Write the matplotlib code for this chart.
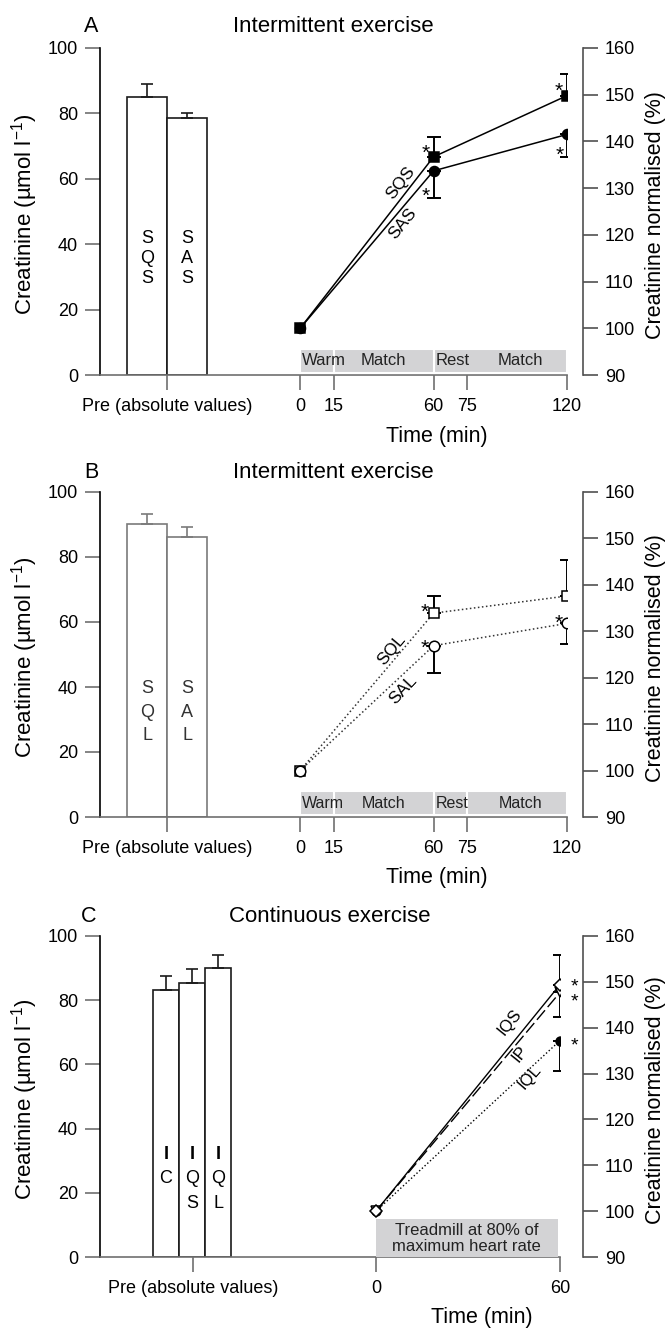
import matplotlib
matplotlib.use("Agg")
import matplotlib.pyplot as plt

plt.rcParams["font.family"] = ["Liberation Sans", "DejaVu Sans"]
plt.rcParams["mathtext.fontset"] = "custom"
plt.rcParams["mathtext.rm"] = "Liberation Sans"
plt.rcParams["mathtext.it"] = "Liberation Sans:italic"
plt.rcParams["mathtext.default"] = "regular"

# ---------------- data ----------------
# Panel A: intermittent exercise, S*S groups
a_groups = ["SQS", "SAS"]
a_pre = [85.0, 78.5]
a_pre_sd = [4.0, 1.5]
a_time = [0, 60, 120]
a_sqs = [100.0, 136.7, 149.8]
a_sqs_sd = [0.0, 4.3, 4.7]
a_sas = [100.0, 133.7, 141.5]
a_sas_sd = [0.0, 5.8, 4.8]

# Panel B: intermittent exercise, S*L groups
b_groups = ["SQL", "SAL"]
b_pre = [90.0, 86.2]
b_pre_sd = [3.2, 3.1]
b_time = [0, 60, 120]
b_sql = [100.0, 133.9, 137.6]
b_sql_sd = [0.0, 3.6, 7.8]
b_sal = [100.0, 126.9, 131.7]
b_sal_sd = [0.0, 5.8, 4.4]

# Panel C: continuous exercise
c_groups = ["IC", "IQS", "IQL"]
c_pre = [83.2, 85.5, 89.9]
c_pre_sd = [4.3, 4.1, 4.1]
c_time = [0, 60]
c_iqs = [100.0, 149.4]
c_iqs_sd = [0.0, 6.4]
c_ip = [100.0, 147.7]
c_ip_sd = [0.0, 5.3]
c_iql = [100.0, 137.2]
c_iql_sd = [0.0, 6.7]

# exercise protocol phases
phase_edges_a = [0, 15, 60, 120]
phase_edges_b = [0, 15, 60, 75, 120]
phase_names = ["Warm", "Match", "Rest", "Match"]
phase_label_x = [1, 37.5, 68.5, 99]
xtick_min_ab = [0, 15, 60, 75, 120]
xtick_min_c = [0, 60]

# ---------------- layout helpers ----------------
W, H = 666, 1328
fig = plt.figure(figsize=(W / 100, H / 100), dpi=100)
PX = 0.72  # points per pixel at 100 dpi
GRAY = "#707070"
BAND = "#d3d3d5"


def rect(x0, y_top, x1, y_bot):
    return [x0 / W, 1 - y_bot / H, (x1 - x0) / W, (y_bot - y_top) / H]


def panel(r, xlim, pre_x, xticks, right_out_px, xlabel_x, ly_px):
    ax = fig.add_axes(r)
    ax.set_xlim(*xlim)
    ax.set_ylim(0, 100)
    for s in ("top", "right"):
        ax.spines[s].set_visible(False)
    ax.spines["left"].set_color("black")
    ax.spines["left"].set_linewidth(1.2)
    ax.spines["bottom"].set_color(GRAY)
    ax.spines["bottom"].set_linewidth(1.2)
    ax.set_yticks([0, 20, 40, 60, 80, 100])
    ax.set_xticks([pre_x] + xticks)
    ax.set_xticklabels(["Pre (absolute values)"] + [str(t) for t in xticks])
    ax.tick_params(axis="y", direction="out", length=15 * PX, width=1.2,
                   color=GRAY, labelsize=13, pad=5)
    ax.tick_params(axis="x", direction="out", length=15 * PX, width=1.2,
                   color=GRAY, labelsize=13, pad=6)

    bb = ax.get_position()
    ax_w, ax_h = bb.width * W, bb.height * H
    x0_px = bb.x0 * W

    ax.set_ylabel("Creatinine (µmol l$^{-1}$)", fontsize=16)
    ax.yaxis.label.set_va("center")
    ax.yaxis.set_label_coords((25 - x0_px) / ax_w, 0.49)

    ax.set_xlabel("Time (min)", fontsize=15.5)
    ax.xaxis.label.set_va("center")
    ax.xaxis.set_label_coords((xlabel_x - x0_px) / ax_w, -ly_px / ax_h)

    axr = ax.twinx()
    axr.set_ylim(90, 160)
    for s in ("top", "left", "bottom"):
        axr.spines[s].set_visible(False)
    axr.spines["right"].set_position(("outward", right_out_px * PX))
    axr.spines["right"].set_color("#505050")
    axr.spines["right"].set_linewidth(1.2)
    axr.set_yticks(range(90, 161, 10))
    axr.tick_params(axis="y", direction="out", length=15 * PX, width=1.2,
                    color="#505050", labelsize=13, pad=5)
    axr.set_ylabel("Creatinine normalised (%)", fontsize=15.5)
    axr.yaxis.label.set_va("center")
    axr.yaxis.set_label_coords((655 - x0_px) / ax_w, 0.49)
    return ax, axr


def fig_text(x_px, y_px, s, **kw):
    fig.text(x_px / W, 1 - y_px / H, s, ha="center", va="center", **kw)


def bars(ax, centers, width, vals, sds, groups, edge, letter_top, step,
         bold_first=False, color="black"):
    ax.bar(centers, vals, width=width, color="white", edgecolor=edge,
           linewidth=1.2, zorder=2)
    ax.errorbar(centers, vals, yerr=[[0] * len(sds), sds], fmt="none",
                ecolor=edge, elinewidth=1.2, capsize=4.5, capthick=1.2,
                zorder=3)
    for cx, g in zip(centers, groups):
        for i, ch in enumerate(g):
            w = "bold" if (bold_first and i == 0) else "normal"
            ax.text(cx, letter_top - i * step, ch, ha="center", va="center",
                    fontsize=13, fontweight=w, color=color, zorder=4)


def series(axr, t, vals, sds, up, ls, marker, ms, face, lw=1.1, color="black",
           dashes=None, z=4):
    kw = dict(linestyle=ls, color=color, linewidth=lw, marker=marker,
              markersize=ms, markerfacecolor=face, markeredgecolor="black",
              markeredgewidth=1.1, zorder=z)
    line, = axr.plot(t, vals, **kw)
    if dashes is not None:
        line.set_dashes(dashes)
    idx = [i for i, s in enumerate(sds) if s > 0]
    tt = [t[i] for i in idx]
    vv = [vals[i] for i in idx]
    ee = [sds[i] for i in idx]
    zero = [0] * len(idx)
    yerr = [zero, ee] if up else [ee, zero]
    axr.errorbar(tt, vv, yerr=yerr, fmt="none", ecolor="black",
                 elinewidth=1.4, capsize=5, capthick=1.4, zorder=3)


def star(axr, x, y, dx_px, dy_px, fs=15):
    axr.annotate("*", xy=(x, y), xytext=(dx_px * PX, dy_px * PX - 0.58 * fs),
                 textcoords="offset points", ha="center", va="baseline",
                 fontsize=fs, zorder=6)


def band(axr, edges, y0, y1, names, xs, fam, fs):
    for x0, x1 in zip(edges[:-1], edges[1:]):
        axr.bar(x0, y1 - y0, width=x1 - x0, bottom=y0, align="edge",
                color=BAND, edgecolor="white", linewidth=1.5, zorder=1)
    for name, x in zip(names, xs):
        axr.text(x, (y0 + y1) / 2, name,
                 ha="left" if name == "Warm" else "center",
                 va="center", fontsize=fs, family=fam, color="#222222",
                 zorder=2)


# ---------------- panel A ----------------
axA, arA = panel(rect(100, 48, 567, 375), (-90, 120), -59.8, xtick_min_ab, 16,
                 437, 61)
bars(axA, [-68.75, -50.85], 17.9, a_pre, a_pre_sd, a_groups, "#1a1a1a",
     41.6, 6.0)
band(arA, phase_edges_a, 90.4, 95.6, phase_names, phase_label_x,
     ["Liberation Sans Narrow", "Liberation Sans"], 12)
series(arA, a_time, a_sqs, a_sqs_sd, True, "-", "s", 6.6, "black")
series(arA, a_time, a_sas, a_sas_sd, False, "-", "o", 7.2, "black")
star(arA, 60, a_sqs[1], -8, 10)
star(arA, 60, a_sas[1], -8, -19)
star(arA, 120, a_sqs[2], -8, 11)
star(arA, 120, a_sas[2], -7, -14)
arA.text(45, 131.1, "SQS", rotation=52, rotation_mode="anchor", ha="center",
         va="center", fontsize=12.5)
arA.text(46.3, 122.5, "SAS", rotation=51, rotation_mode="anchor", ha="center",
         va="center", fontsize=12.5)
fig_text(91, 26, "A", fontsize=15.5)
fig_text(333, 26, "Intermittent exercise", fontsize=16)

# ---------------- panel B ----------------
axB, arB = panel(rect(100, 492, 567, 817), (-90, 120), -59.8, xtick_min_ab, 16,
                 437, 61)
bars(axB, [-68.75, -50.85], 17.9, b_pre, b_pre_sd, b_groups, "#7a7a7a",
     39.4, 7.2, color="#333333")
band(arB, phase_edges_b, 90.5, 95.5, phase_names, phase_label_x,
     ["Liberation Sans"], 11.5)
series(arB, b_time, b_sql, b_sql_sd, True, ":", "s", 7.0, "white",
       color="#333333", lw=1.1)
series(arB, b_time, b_sal, b_sal_sd, False, ":", "o", 7.6, "white",
       color="#333333", lw=1.1)
star(arB, 60, b_sql[1], -9, 7)
star(arB, 60, b_sal[1], -9, 4)
star(arB, 120, b_sal[2], -8, 7)
arB.text(41.2, 126.0, "SQL", rotation=50, rotation_mode="anchor", ha="center",
         va="center", fontsize=12.5)
arB.text(46.4, 117.4, "SAL", rotation=47, rotation_mode="anchor", ha="center",
         va="center", fontsize=12.5)
fig_text(91, 472, "B", fontsize=15.5)
fig_text(333, 472, "Intermittent exercise", fontsize=16)

# ---------------- panel C ----------------
axC, arC = panel(rect(100, 936, 560, 1257), (-90, 60), -59.7, xtick_min_c, 23,
                 482, 60)
bars(axC, [-68.5, -60.0, -51.5], 8.48, c_pre, c_pre_sd, c_groups, "#1a1a1a",
     31.8, 7.5, bold_first=True)
arC.bar(0, 98.3 - 90, width=59.5, bottom=90, align="edge", color=BAND,
        edgecolor="none", zorder=1)
arC.text(29.5, 94.1, "Treadmill at 80% of\nmaximum heart rate", ha="center",
         va="center", fontsize=12, linespacing=1.1, color="#222222", zorder=2)
series(arC, c_time, c_iql, c_iql_sd, False, ":", "o", 6.4, "black", lw=1.0,
       z=4)
series(arC, c_time, c_ip, c_ip_sd, False, "--", "v", 7.0, "white", lw=1.0,
       dashes=(9, 3), z=5)
series(arC, c_time, c_iqs, c_iqs_sd, True, "-", "D", 6.2, "white", lw=1.0,
       z=5)
star(arC, 60, c_iqs[1], 14, 4, fs=14)
star(arC, 60, c_ip[1], 14, -3, fs=14)
star(arC, 60, c_iql[1], 14, 1, fs=14)
arC.text(43.7, 141.2, "IQS", rotation=51, rotation_mode="anchor", ha="center",
         va="center", fontsize=12)
arC.text(47.0, 134.3, "IP", rotation=51, rotation_mode="anchor", ha="center",
         va="center", fontsize=12)
arC.text(50.2, 129.3, "IQL", rotation=49, rotation_mode="anchor", ha="center",
         va="center", fontsize=12)
fig_text(89, 916, "C", fontsize=15.5)
fig_text(330, 916, "Continuous exercise", fontsize=16)

fig.savefig("out.png", dpi=100)
